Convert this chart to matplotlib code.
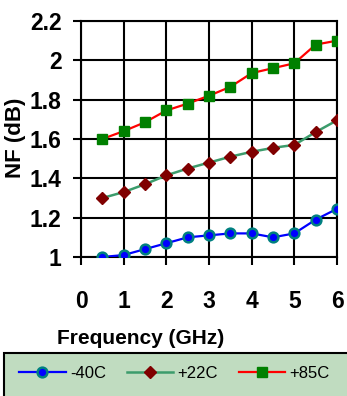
import matplotlib
matplotlib.use("Agg")
import matplotlib.pyplot as plt
from matplotlib.patches import Rectangle

# ---------- data ----------
freq = [0.5, 1.0, 1.5, 2.0, 2.5, 3.0, 3.5, 4.0, 4.5, 5.0, 5.5, 6.0]
nf_m40 = [1.00, 1.01, 1.04, 1.07, 1.10, 1.11, 1.12, 1.12, 1.10, 1.12, 1.19, 1.245]
nf_p22 = [1.30, 1.33, 1.37, 1.415, 1.45, 1.48, 1.51, 1.535, 1.555, 1.57, 1.635, 1.695]
nf_p85 = [1.60, 1.64, 1.685, 1.745, 1.78, 1.82, 1.865, 1.935, 1.96, 1.985, 2.08, 2.10]

xticks = [0, 1, 2, 3, 4, 5, 6]
yticks = [1.0, 1.2, 1.4, 1.6, 1.8, 2.0, 2.2]
ytick_labels = ["1", "1.2", "1.4", "1.6", "1.8", "2", "2.2"]

plt.rcParams["font.family"] = ["Liberation Sans", "DejaVu Sans"]

W, H = 347, 396
fig = plt.figure(figsize=(W / 100, H / 100), dpi=100)
ax = fig.add_axes([81 / W, 1 - 257 / H, (337 - 81) / W, (257 - 21) / H])

ax.plot(freq, nf_m40, color="#0000ff", lw=1.6, marker="o", ms=7,
        mfc="#0000ff", mec="#008080", mew=1.8, label="-40C", zorder=5)
ax.plot(freq, nf_p22, color="#3c9c6c", lw=1.8, marker="D", ms=6,
        mfc="#800000", mec="#800000", label="+22C", zorder=5)
ax.plot(freq, nf_p85, color="#ff0000", lw=1.6, marker="s", ms=7.5,
        mfc="#008000", mec="#008000", label="+85C", zorder=5)

ax.set_xlim(0, 6)
ax.set_ylim(1.0, 2.2)
ax.set_xticks(xticks)
ax.set_yticks(yticks)
ax.set_yticklabels(ytick_labels)
ax.grid(True, color="black", lw=1.5)
for s in ax.spines.values():
    s.set_linewidth(1.5)
ax.tick_params(axis="both", direction="out", length=6, width=1.5,
               labelsize=16.5)
ax.tick_params(axis="x", pad=18)
ax.tick_params(axis="y", pad=8)
for lab in ax.get_xticklabels() + ax.get_yticklabels():
    lab.set_fontweight("bold")

fig.text(16 / W, 1 - 138 / H, "NF (dB)", rotation=90, fontsize=16,
         fontweight="bold", ha="center", va="center")
fig.text(141 / W, 1 - 339 / H, "Frequency (GHz)", fontsize=15,
         fontweight="bold", ha="center", va="center")

# legend box
fig.patches.append(Rectangle((3.5 / W, -0.05), 1.0, (396 - 352.5) / H + 0.05,
                             transform=fig.transFigure, facecolor="#c0dcc0",
                             edgecolor="black", lw=1.5, zorder=0))
fig.legend(loc="center left", bbox_to_anchor=(19 / W, 1 - 373 / H), ncol=3,
           frameon=False, fontsize=12, handlelength=2.8, handletextpad=0.25,
           columnspacing=1.25, borderaxespad=0, borderpad=0)

fig.savefig("out.png", dpi=100)
